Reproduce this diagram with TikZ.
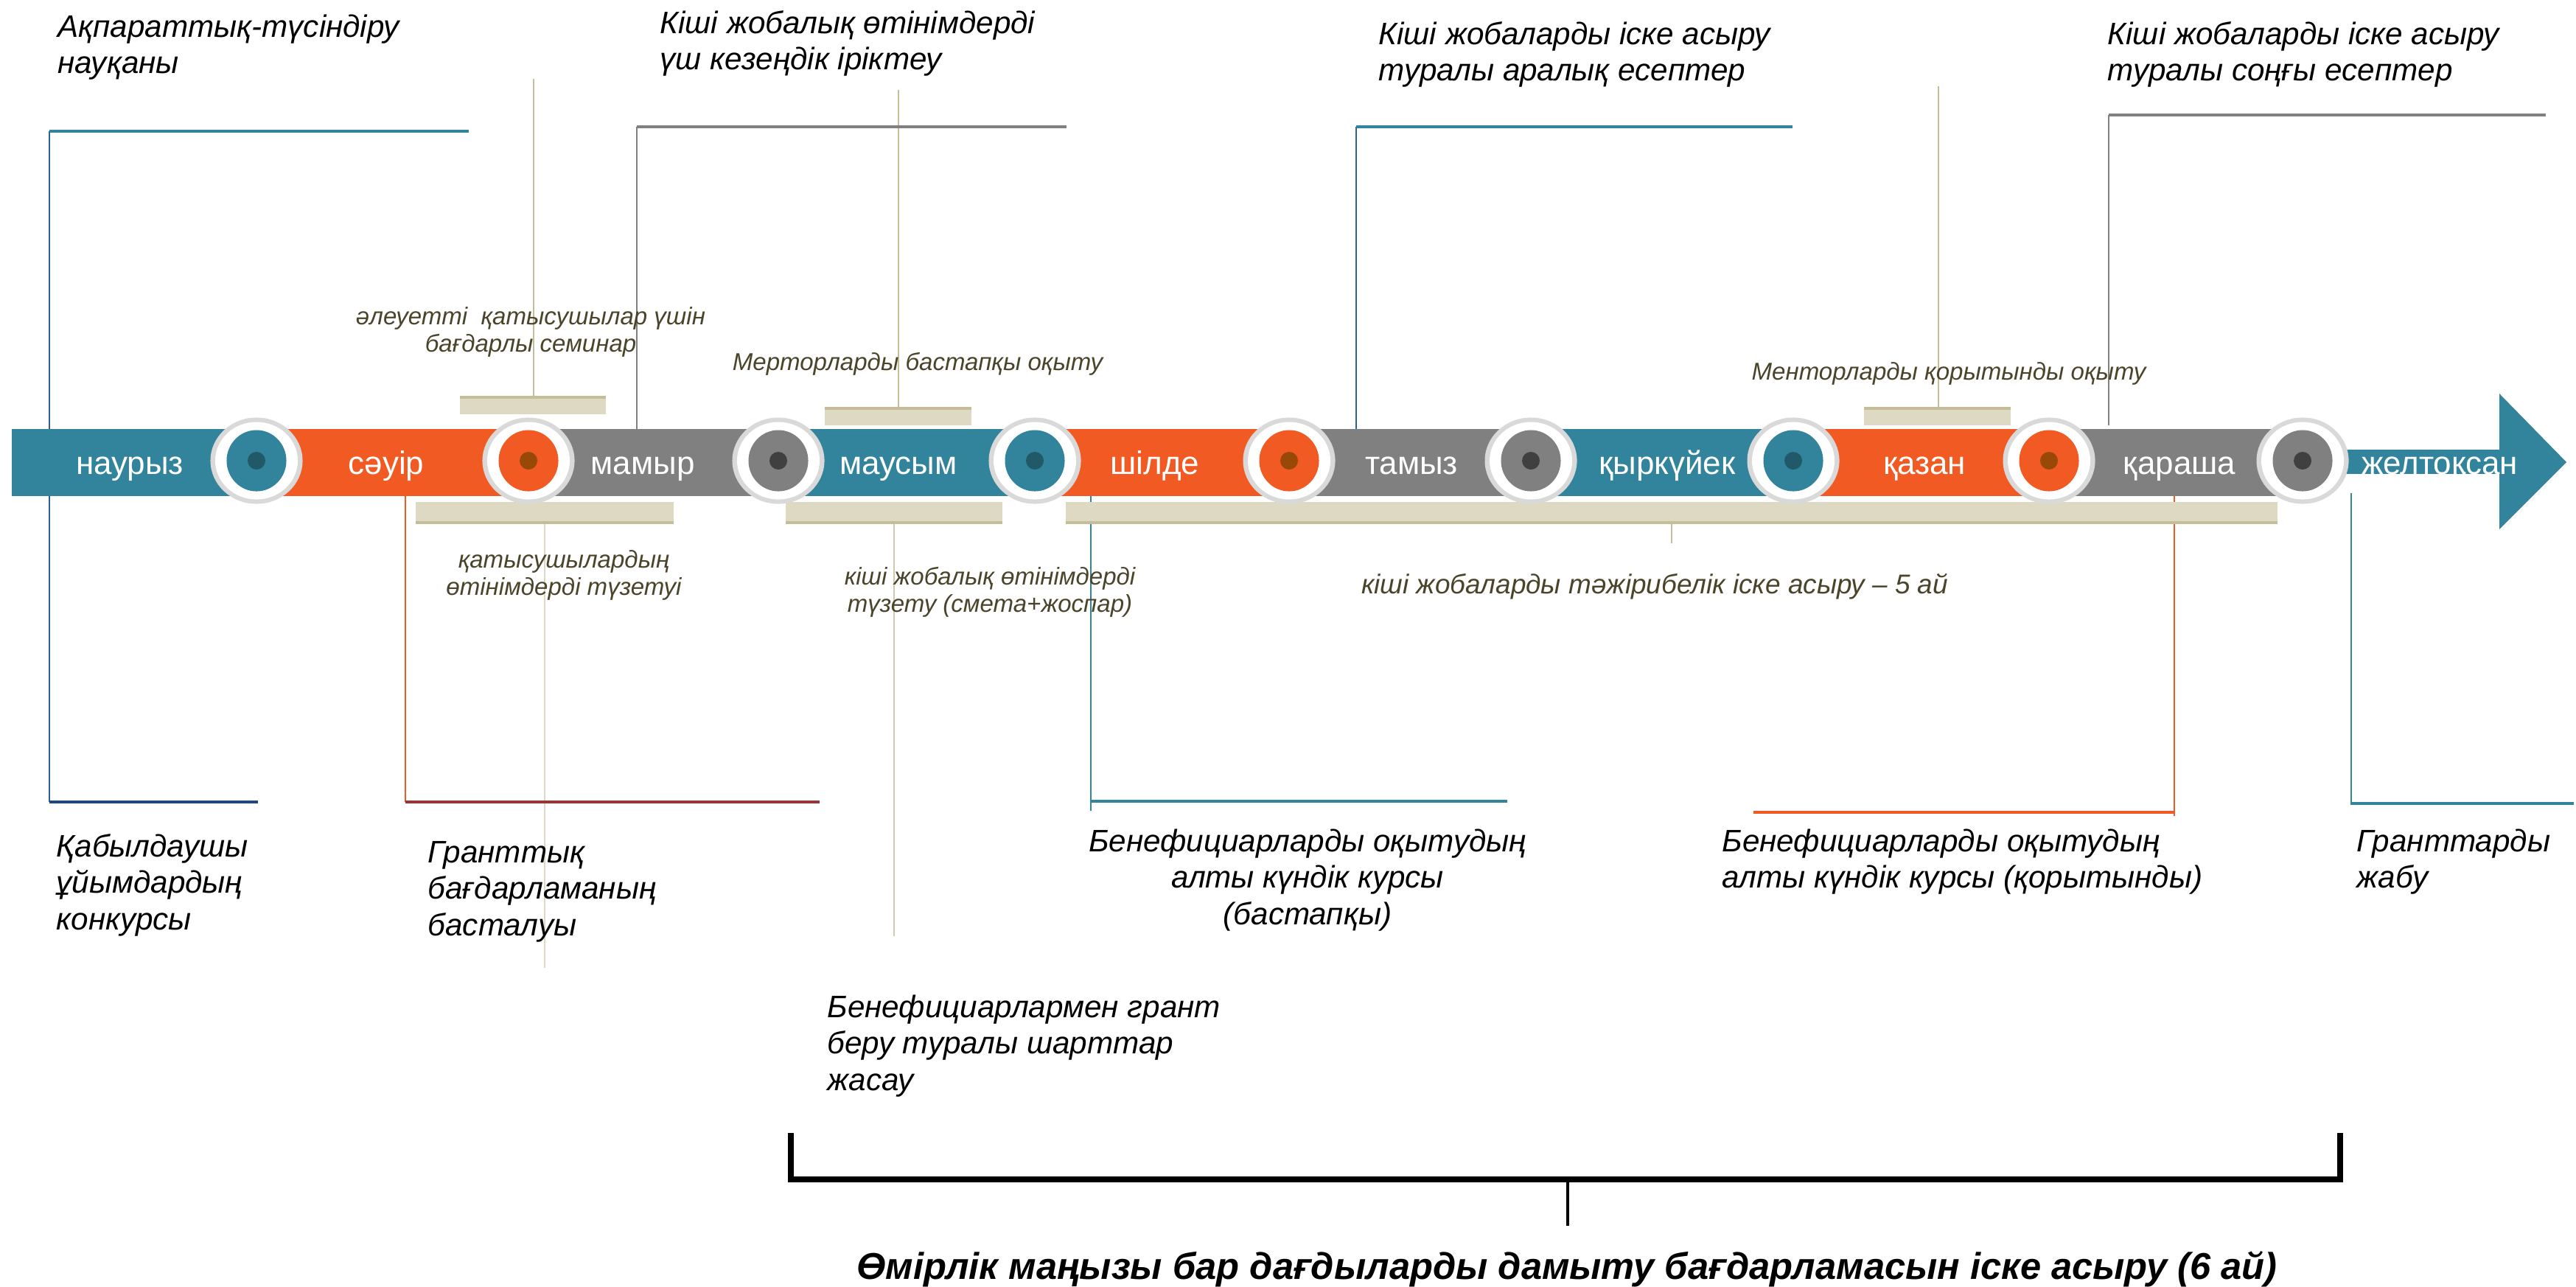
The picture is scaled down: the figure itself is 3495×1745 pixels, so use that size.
\documentclass[tikz,border=0pt]{standalone}
\usepackage{fontspec}
\setmainfont{Liberation Sans}
\usetikzlibrary{calc,shapes.geometric}
\definecolor{tlteal}{HTML}{31849B}
\definecolor{tlorange}{HTML}{F15A22}
\definecolor{tlgray}{HTML}{808080}
\definecolor{dteal}{HTML}{215968}
\definecolor{dorange}{HTML}{984807}
\definecolor{dgray}{HTML}{404040}
\definecolor{ringgray}{HTML}{D9D9D9}
\definecolor{beige}{HTML}{DDD9C3}
\definecolor{beigedark}{HTML}{C4BD97}
\definecolor{beigelight}{HTML}{DCD8C4}
\definecolor{olivetxt}{HTML}{4A452A}
\definecolor{navyln}{HTML}{1F497D}
\definecolor{vblue}{HTML}{2F5F8F}
\definecolor{dredln}{HTML}{953735}
\newcommand{\mlines}[2]{\begin{tabular}[t]{@{}#1@{}}#2\end{tabular}}
\tikzset{
  month/.style={text=white, font=\fontsize{12.5}{15}\selectfont, anchor=base, inner sep=0pt},
  lbl/.style={font=\fontsize{12}{14.2}\selectfont\itshape, text=black, inner sep=0pt, anchor=base west},
  lblc/.style={lbl, anchor=base},
  sml/.style={font=\fontsize{9.4}{10.7}\selectfont\itshape, text=olivetxt, inner sep=0pt, anchor=base},
  ringc/.style={ellipse, fill=ringgray, minimum width=1.25cm, minimum height=1.17cm, inner sep=0pt},
  whitec/.style={ellipse, fill=white, minimum width=1.12cm, minimum height=1.05cm, inner sep=0pt},
  innerc/.style={ellipse, minimum width=0.81cm, minimum height=0.83cm, inner sep=0pt},
  dotc/.style={circle, minimum size=0.24cm, inner sep=0pt},
  vln/.style={line width=0.6pt},
  hln/.style={line width=0.9pt},
  brk/.style={line width=2.2pt, black},
}
\begin{document}
\begin{tikzpicture}[x=0.01cm,y=-0.01cm]
\useasboundingbox (0,0) rectangle (3495,1745);
\fill[white] (0,0) rectangle (3495,1745);

% ---------- connector coordinates ----------
\coordinate (k1t) at (67,178);  \coordinate (k1tr) at (636,178);
\coordinate (k1b) at (67,1088); \coordinate (k1br) at (350,1088);
\coordinate (k2t) at (864,172); \coordinate (k2tr) at (1447,172); \coordinate (k2b) at (864,583);
\coordinate (k3t) at (1840,172); \coordinate (k3tr) at (2432,172); \coordinate (k3b) at (1840,590);
\coordinate (k4t) at (2861,156); \coordinate (k4tr) at (3454,156); \coordinate (k4b) at (2861,577);
\coordinate (k5t) at (550,673); \coordinate (k5b) at (550,1088); \coordinate (k5br) at (1112,1088);
\coordinate (k6t) at (1480,673); \coordinate (k6b) at (1480,1100); \coordinate (k6h) at (1480,1087); \coordinate (k6br) at (2045,1087);
\coordinate (k7t) at (2950,673); \coordinate (k7b) at (2950,1107); \coordinate (k7h) at (2950,1102); \coordinate (k7bl) at (2379,1102);
\coordinate (k8t) at (3190,669); \coordinate (k8b) at (3190,1092); \coordinate (k8h) at (3190,1090); \coordinate (k8br) at (3492,1090);

% beige leader lines
\coordinate (u1t) at (724,107);  \coordinate (u1b) at (724,538);
\coordinate (u2t) at (1219,122); \coordinate (u2b) at (1219,553);
\coordinate (u3t) at (2630,117); \coordinate (u3b) at (2630,553);
\coordinate (d1t) at (739,710);  \coordinate (d1b) at (739,1313);
\coordinate (d2t) at (1213,710); \coordinate (d2b) at (1213,1270);
\coordinate (d3t) at (2268,710); \coordinate (d3b) at (2268,737);

\draw[vln, beigedark] (u1t) -- (u1b);
\draw[vln, beigedark] (u2t) -- (u2b);
\draw[vln, beigedark] (u3t) -- (u3b);
\draw[vln, beigelight] (d1t) -- (d1b);
\draw[vln, beigedark!80] (d2t) -- (d2b);
\draw[vln, beigedark] (d3t) -- (d3b);

% coloured bracket lines
\draw[vln, vblue] (k1t) -- (k1b);
\draw[hln, tlteal] (k1t) -- (k1tr);
\draw[hln, navyln] (k1b) -- (k1br);
\draw[vln, tlgray] (k2t) -- (k2b);
\draw[hln, tlgray] (k2t) -- (k2tr);
\draw[vln, vblue] (k3t) -- (k3b);
\draw[hln, tlteal] (k3t) -- (k3tr);
\draw[vln, tlgray] (k4t) -- (k4b);
\draw[hln, tlgray] (k4t) -- (k4tr);
\draw[vln, tlorange] (k5t) -- (k5b);
\draw[hln, dredln] (k5b) -- (k5br);
\draw[vln, tlteal] (k6t) -- (k6b);
\draw[hln, tlteal] (k6h) -- (k6br);
\draw[vln, tlorange] (k7t) -- (k7b);
\draw[hln, tlorange] (k7h) -- (k7bl);
\draw[vln, tlteal] (k8t) -- (k8b);
\draw[hln, tlteal] (k8h) -- (k8br);

% ---------- timeline bar ----------
\fill[tlteal]   (16,582)   rectangle (348,673);
\fill[tlorange] (348,582)  rectangle (717,673);
\fill[tlgray]   (717,582)  rectangle (1056,673);
\fill[tlteal]   (1056,582) rectangle (1404,673);
\fill[tlorange] (1404,582) rectangle (1749,673);
\fill[tlgray]   (1749,582) rectangle (2077,673);
\fill[tlteal]   (2077,582) rectangle (2433,673);
\fill[tlorange] (2433,582) rectangle (2780,673);
\fill[tlgray]   (2780,582) rectangle (3124,673);
\fill[tlteal]   (3124,610) rectangle (3395,643);
\fill[tlteal]   (3391,534) -- (3482,627) -- (3391,718) -- cycle;

% ---------- beige boxes ----------
\fill[beige] (624,538) rectangle (822,562);   \draw[hln, beigedark] (624,539) -- (822,539);
\fill[beige] (1119,553) rectangle (1318,577); \draw[hln, beigedark] (1119,554) -- (1318,554);
\fill[beige] (2529,553) rectangle (2728,577); \draw[hln, beigedark] (2529,554) -- (2728,554);
\fill[beige] (564,681) rectangle (914,710);    \draw[hln, beigedark] (564,709) -- (914,709);
\fill[beige] (1066,681) rectangle (1360,710);  \draw[hln, beigedark] (1066,709) -- (1360,709);
\fill[beige] (1446,681) rectangle (3090,710);  \draw[hln, beigedark] (1446,709) -- (3090,709);

% ---------- circles ----------
\foreach \n/\x/\c/\d in {1/348/tlteal/dteal, 2/717/tlorange/dorange, 3/1056/tlgray/dgray,
  4/1404/tlteal/dteal, 5/1749/tlorange/dorange, 6/2077/tlgray/dgray,
  7/2433/tlteal/dteal, 8/2780/tlorange/dorange, 9/3124/tlgray/dgray}{
  \node[ringc] (c\n) at (\x,625) {};
  \node[whitec] (c\n w) at (c\n) {};
  \node[innerc, fill=\c] (c\n i) at (c\n) {};
  \node[dotc, fill=\d] (c\n d) at (c\n) {};
}

% ---------- month labels ----------
\node[month] (m1) at (176,643) {наурыз};
\node[month] (m2) at (524,643) {сәуір};
\node[month] (m3) at (872,643) {мамыр};
\node[month] (m4) at (1219,643) {маусым};
\node[month] (m5) at (1567,643) {шілде};
\node[month] (m6) at (1915,643) {тамыз};
\node[month] (m7) at (2262,643) {қыркүйек};
\node[month] (m8) at (2611,643) {қазан};
\node[month] (m9) at (2957,643) {қараша};
\node[month] (m10) at (3310,643) {желтоқсан};

% ---------- main labels ----------
\node[lbl] (l1) at (78,50) {\mlines{l}{Ақпараттық-түсіндіру\\науқаны}};
\node[lbl] (l2) at (895,45) {\mlines{l}{Кіші жобалық өтінімдерді\\үш кезеңдік іріктеу}};
\node[lbl] (l3) at (1870,60) {\mlines{l}{Кіші жобаларды іске асыру\\туралы аралық есептер}};
\node[lbl] (l4) at (2859,60) {\mlines{l}{Кіші жобаларды іске асыру\\туралы соңғы есептер}};
\node[lbl] (b1) at (76,1162) {\mlines{l}{Қабылдаушы\\ұйымдардың\\конкурсы}};
\node[lbl] (b2) at (580,1170) {\mlines{l}{Гранттық\\бағдарламаның\\басталуы}};
\node[lblc] (b3) at (1774,1155) {\mlines{c}{Бенефициарларды оқытудың\\алты күндік курсы\\(бастапқы)}};
\node[lbl] (b4) at (2336,1155) {\mlines{l}{Бенефициарларды оқытудың\\алты күндік курсы (қорытынды)}};
\node[lbl] (b5) at (3197,1155) {\mlines{l}{Гранттарды\\жабу}};
\node[lbl] (b6) at (1122,1380) {\mlines{l}{Бенефициарлармен грант\\беру туралы шарттар\\жасау}};

% ---------- small olive labels ----------
\node[sml] (s1) at (720,440) {\mlines{c}{әлеуетті~ қатысушылар үшін\\бағдарлы семинар}};
\node[sml] (s2) at (1245,502) {Мерторларды бастапқы оқыту};
\node[sml] (s3) at (2644,515) {Менторларды қорытынды оқыту};
\node[sml] (s4) at (765,770) {\mlines{c}{қатысушылардың\\өтінімдерді түзетуі}};
\node[sml] (s5) at (1343,793) {\mlines{c}{кіші жобалық өтінімдерді\\түзету (смета+жоспар)}};
\node[sml, font=\fontsize{10.5}{12}\selectfont\itshape] (s6) at (2245,805) {кіші жобаларды тәжірибелік іске асыру – 5 ай};

% ---------- bottom bracket ----------
\coordinate (bl) at (1073,1537); \coordinate (blb) at (1073,1600);
\coordinate (br) at (3175,1537); \coordinate (brb) at (3175,1600);
\coordinate (bm) at (2127,1600); \coordinate (bms) at (2127,1663);
\draw[brk] (bl) -- (blb) -- (brb) -- (br);
\draw[line width=1.3pt, black] (bm) -- (bms);
\node[anchor=base, inner sep=0pt, font=\fontsize{14.4}{17}\selectfont\bfseries\itshape] (cap) at (2126,1735)
  {Өмірлік маңызы бар дағдыларды дамыту бағдарламасын іске асыру (6 ай)};
\end{tikzpicture}
\end{document}
